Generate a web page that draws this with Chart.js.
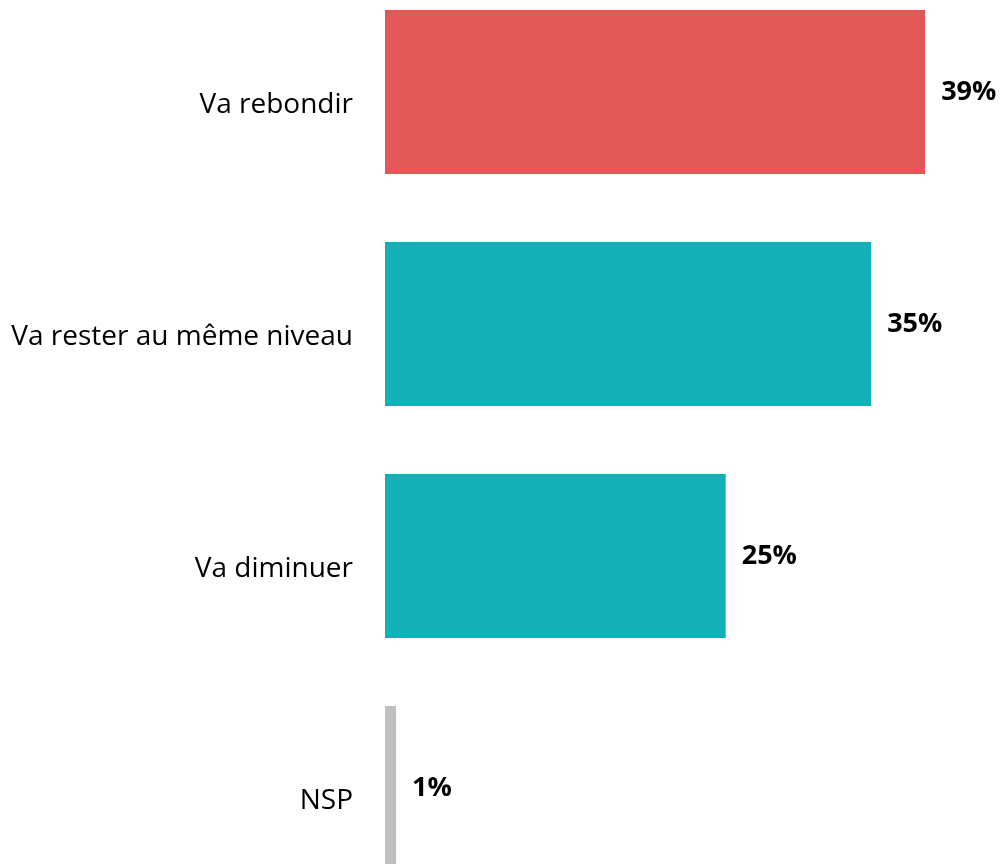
<!DOCTYPE html>
<html>
<head>
<meta charset="utf-8">
<script src="https://cdn.jsdelivr.net/npm/chart.js@4/dist/chart.umd.min.js"></script>
<style>
  html, body { margin: 0; padding: 0; background: #fff; overflow: hidden; }
  /* the original is cropped: top and bottom bars run past the edges */
  #chart { position: absolute; left: 0; top: -24px; }
</style>
</head>
<body>
<canvas id="chart" width="1001" height="928"></canvas>
<script>
const categories = ['Va rebondir', 'Va rester au même niveau', 'Va diminuer', 'NSP'];
const values = [39, 35.1, 24.6, 0.8];
const shownLabels = ['39%', '35%', '25%', '1%'];
const barColors = ['#E35757', '#14B0B7', '#14B0B7', '#BFBFBF'];

const valueLabels = {
  id: 'valueLabels',
  afterDatasetsDraw(chart) {
    const ctx = chart.ctx;
    const meta = chart.getDatasetMeta(0);
    ctx.save();
    ctx.font = 'bold 27px "Open Sans"';
    ctx.fillStyle = '#000';
    ctx.textAlign = 'left';
    ctx.textBaseline = 'middle';
    meta.data.forEach((bar, i) => {
      ctx.fillText(shownLabels[i], bar.x + 16, bar.y);
    });
    ctx.restore();
  }
};

new Chart(document.getElementById('chart').getContext('2d'), {
  type: 'bar',
  data: {
    labels: categories,
    datasets: [{
      data: values,
      backgroundColor: barColors,
      categoryPercentage: 1,
      barPercentage: 0.707
    }]
  },
  options: {
    indexAxis: 'y',
    responsive: false,
    animation: false,
    devicePixelRatio: 1,
    layout: { padding: { left: 0, right: 62, top: 0, bottom: 0 } },
    plugins: { legend: { display: false }, tooltip: { enabled: false } },
    scales: {
      x: {
        display: false,
        min: 0,
        max: 40
      },
      y: {
        grid: { display: false, drawTicks: false },
        border: { display: false },
        ticks: {
          color: '#000',
          padding: 32,
          labelOffset: 13,
          font: { family: '"Open Sans"', size: 28 }
        },
        afterFit(scale) {
          scale.width = 385;
          scale.paddingTop = 0;
          scale.paddingBottom = 0;
        }
      }
    }
  },
  plugins: [valueLabels]
});
</script>
</body>
</html>
